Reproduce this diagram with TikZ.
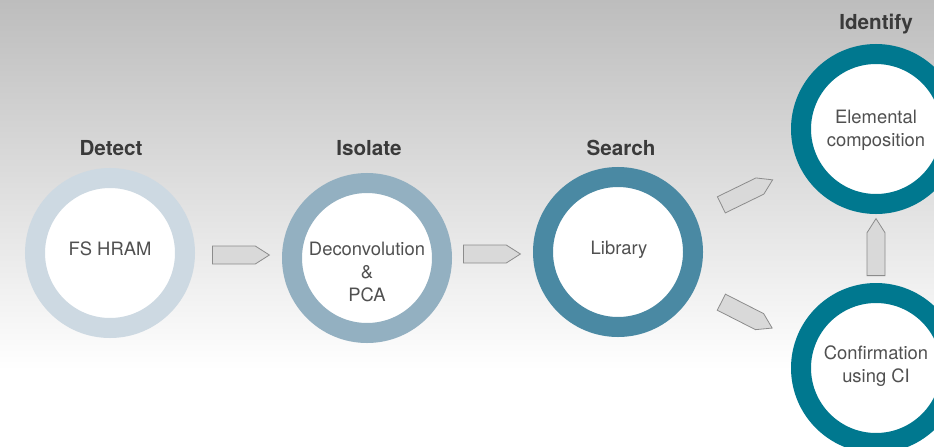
\documentclass[tikz,border=0pt]{standalone}
\usepackage{fontspec}
\setmainfont{TeX Gyre Heros}
\usetikzlibrary{shapes.arrows}
\definecolor{bgtop}{HTML}{BDBDBD}
\definecolor{ringA}{HTML}{CDD9E2}
\definecolor{ringB}{HTML}{93B0C1}
\definecolor{ringC}{HTML}{4A89A3}
\definecolor{ringD}{HTML}{00788F}
\definecolor{arrowfill}{HTML}{D9D9D9}
\definecolor{arrowline}{HTML}{8C8C8C}
\definecolor{labeltext}{HTML}{3A3A3A}
\definecolor{innertext}{HTML}{505050}
\pgfdeclareverticalshading{bgshade}{100bp}{color(0bp)=(white); color(33.5bp)=(white); color(75bp)=(bgtop); color(100bp)=(bgtop)}
\begin{document}
\begin{tikzpicture}[x=0.75pt,y=-0.75pt,
  ring/.style={circle, draw=#1, line width=15pt, fill=white, minimum size=112.5pt, inner sep=0pt},
  inner/.style={text=innertext, font=\fontsize{13.8}{17.25}\selectfont, align=center, inner sep=0pt},
  stage/.style={text=labeltext, font=\fontsize{15.5}{18}\selectfont\bfseries},
  blockarrow/.style={single arrow, single arrow head extend=0pt, single arrow tip angle=65, minimum height=42.75pt, minimum width=13.5pt, inner sep=0pt, fill=arrowfill, draw=arrowline, line width=0.6pt, anchor=tail, rotate=#1}]
\useasboundingbox (0,0) rectangle (934,446);
\clip (0,0) rectangle (934,446);
\shade[shading=bgshade] (0,0) rectangle (934,446);
% rings
\node[ring=ringA] (c1) at (110,253) {};
\node[ring=ringB] (c2) at (367,258) {};
\node[ring=ringC] (c3) at (618,252) {};
\node[ring=ringD] (c4) at (876,129) {};
\node[ring=ringD] (c5) at (876,368) {};
% inner texts
\node[inner] (t1) at (110,249) {FS HRAM};
\node[inner] (t2) at (367,272) {Deconvolution\\\&\\PCA};
\node[inner] (t3) at (619,250) {Library};
\node[inner] (t4) at (876,130) {Elemental\\composition};
\node[inner] (t5) at (876,366) {Confirmation\\using CI};
% stage labels
\node[stage] (l1) at (111,148) {Detect};
\node[stage] (l2) at (369,148) {Isolate};
\node[stage] (l3) at (621,148) {Search};
\node[stage] (l4) at (876,24) {Identify};
% block arrows
\node[blockarrow=0] (a1) at (212,255) {};
\node[blockarrow=0] (a2) at (463,254) {};
\node[blockarrow=26] (a3) at (721,205) {};
\node[blockarrow=-27] (a4) at (721,302) {};
\node[blockarrow=90] (a5) at (876,276) {};
\end{tikzpicture}
\end{document}
